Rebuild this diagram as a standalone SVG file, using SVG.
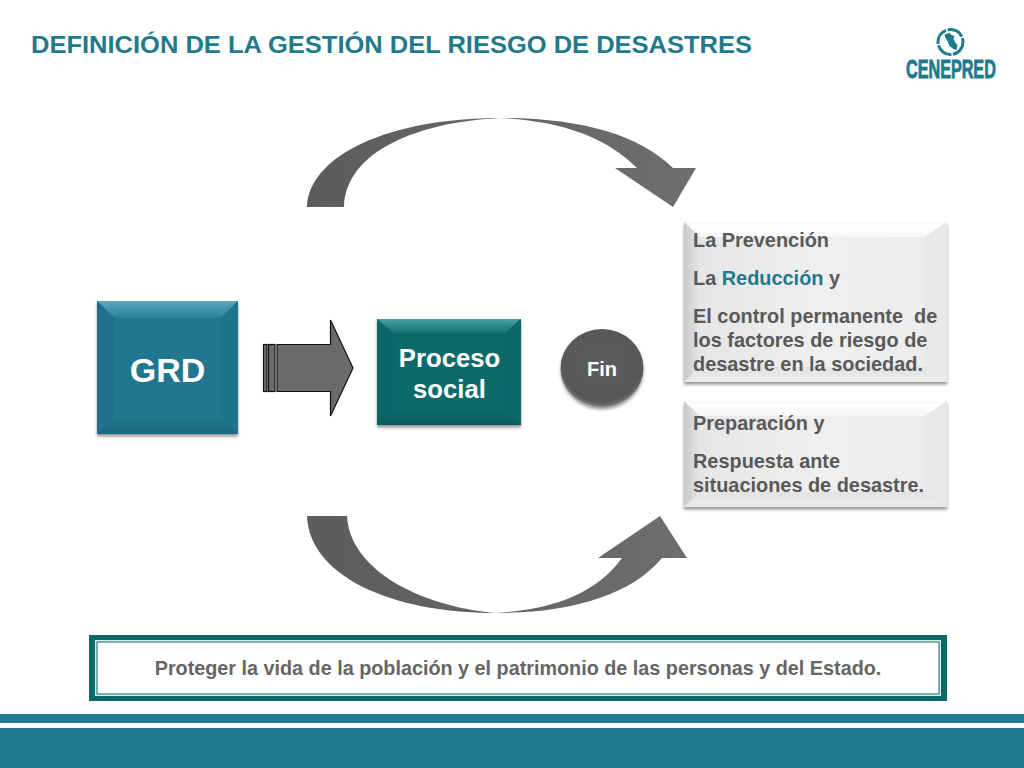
<svg xmlns="http://www.w3.org/2000/svg" width="1024" height="768" viewBox="0 0 1024 768">
<style>
text{font-family:"Liberation Sans",Arial,sans-serif;font-weight:700}
.t{fill:#595959;font-size:19.900px}
.w{fill:#fff;text-anchor:middle}
</style>
<defs>
<filter id="sh" x="-10%" y="-10%" width="120%" height="120%"><feDropShadow dx="0" dy="2.500" stdDeviation="1.500" flood-color="#000" flood-opacity=".42"/></filter>
<linearGradient id="g1" x1="0" x2="1" y1="0" y2="0"><stop offset="0" stop-color="#5c5c5c"/><stop offset="1" stop-color="#6e6e6e"/></linearGradient>
<radialGradient id="fin" cx=".5" cy=".45" r=".55"><stop offset="0" stop-color="#5c5c5c"/><stop offset=".88" stop-color="#585858"/><stop offset="1" stop-color="#7d7d7d"/></radialGradient>
<linearGradient id="box" x1="0" x2="1" y1="0" y2="0"><stop offset="0" stop-color="#c9c9c9"/><stop offset=".06" stop-color="#e6e6e6"/><stop offset=".5" stop-color="#efefef"/><stop offset="1" stop-color="#ececec"/></linearGradient>
<linearGradient id="top" x1="0" x2="0" y1="0" y2="1"><stop offset="0" stop-color="#f6f6f6"/><stop offset=".25" stop-color="#fff"/><stop offset="1" stop-color="#f7f7f7"/></linearGradient>
<linearGradient id="bt" x1="0" x2="0" y1="0" y2="1"><stop offset="0" stop-color="#e2e2e2"/><stop offset="1" stop-color="#ececec"/></linearGradient>
<linearGradient id="gt" x1="0" x2="0" y1="0" y2="1"><stop offset="0" stop-color="#5aa9be"/><stop offset="1" stop-color="#2a8098"/></linearGradient>
<linearGradient id="gb" x1="0" x2="0" y1="0" y2="1"><stop offset="0" stop-color="#21768f"/><stop offset="1" stop-color="#1b667d"/></linearGradient>
<linearGradient id="pt" x1="0" x2="0" y1="0" y2="1"><stop offset="0" stop-color="#48a0a0"/><stop offset="1" stop-color="#127272"/></linearGradient>
<linearGradient id="pb" x1="0" x2="0" y1="0" y2="1"><stop offset="0" stop-color="#0d6a6a"/><stop offset="1" stop-color="#0b5c5c"/></linearGradient>
</defs>
<rect width="1024" height="768" fill="#fff"/>
<text x="31" y="52.500" font-size="24" fill="#1f7a8c" textLength="721" lengthAdjust="spacingAndGlyphs">DEFINICIÓN DE LA GESTIÓN DEL RIESGO DE DESASTRES</text>

<g id="logo">
<circle cx="950.500" cy="42" r="12.500" fill="none" stroke="#1f7a8c" stroke-width="3" stroke-dasharray="17 1.500"/>
<path d="M945.500 34l4-1 2 2 3 1-1 3 2 4 2 2-1 5-3-1-4-3-2-5-2-3-1-3z" fill="#1f7a8c"/>
<text transform="translate(906 78) scale(.622 1)" x="0" y="0" font-size="26" fill="#1f7a8c" stroke="#1f7a8c" stroke-width=".9">CENEPRED</text>
</g>

<g id="connectors">
<path id="arrow-top" d="M307 207C309 155 390 118 500 118C580 118 638 134 673 168L696 168L673 207L615 168L637 168C605 136 560 121 500 118C420 122 346 150 344 207Z" fill="url(#g1)"/>
<path id="arrow-bottom" d="M307 516L347 516C350 570 420 606 495 613C550 610 595 595 622 558L598 558L660 516L687 558L662 558C630 596 570 613 495 613C390 613 309 575 307 516Z" fill="url(#g1)"/>
<g id="arrow-mid" fill="#6b6b6b" stroke="#111" stroke-width="1.200">
<rect x="263.500" y="344.500" width="3.500" height="47"/>
<rect x="268.500" y="344.500" width="6.500" height="47"/>
<path d="M277 344.500H330.500V320L353 368L330.500 416V391.500H277Z"/>
</g>
</g>

<g id="grd">
<rect x="97" y="301" width="141" height="133" fill="#21768f" filter="url(#sh)"/>
<path d="M97 301H238L221 318H114Z" fill="url(#gt)"/>
<path d="M97 301L114 318V417L97 434Z" fill="#1f708a"/>
<path d="M238 301L221 318V417L238 434Z" fill="#20738c"/>
<path d="M97 434L114 417H221L238 434Z" fill="url(#gb)"/>
<text class="w" x="167.500" y="381.500" font-size="34">GRD</text>
</g>

<g id="proceso">
<rect x="377" y="319" width="144" height="106" fill="#0d6a6a" filter="url(#sh)"/>
<path d="M377 319H521L505 333H393Z" fill="url(#pt)"/>
<path d="M377 319L393 333V411L377 425Z" fill="#0c6565"/>
<path d="M521 319L505 333V411L521 425Z" fill="#0c6767"/>
<path d="M377 425L393 411H505L521 425Z" fill="url(#pb)"/>
<text class="w" x="449.500" y="367" font-size="25.700">Proceso</text>
<text class="w" x="449.500" y="398" font-size="25.700">social</text>
</g>

<g id="fin-node">
<ellipse cx="602" cy="368" rx="41.500" ry="39" fill="url(#fin)" filter="url(#sh)"/>
<text class="w" x="602" y="375.500" font-size="20">Fin</text>
</g>

<g id="box1">
<rect x="684" y="222" width="263" height="160" fill="url(#box)" filter="url(#sh)"/>
<path d="M684 222H947L925 237H700Z" fill="url(#top)"/>
<path d="M947 222L925 237V367L947 382Z" fill="#e8e8e8"/>
<path d="M684 382L700 367H925L947 382Z" fill="url(#bt)"/>
<text class="t" x="693" y="246.500">La Prevención</text>
<text class="t" x="693" y="285">La <tspan fill="#1f7a8c">Reducción</tspan> y</text>
<text class="t" x="693" y="323" xml:space="preserve">El control permanente  de</text>
<text class="t" x="693" y="347">los factores de riesgo de</text>
<text class="t" x="693" y="371">desastre en la sociedad.</text>
</g>

<g id="box2">
<rect x="684" y="401" width="263" height="106" fill="url(#box)" filter="url(#sh)"/>
<path d="M684 401H947L925 416H700Z" fill="url(#top)"/>
<path d="M947 401L925 416V492L947 507Z" fill="#e8e8e8"/>
<path d="M684 507L700 492H925L947 507Z" fill="url(#bt)"/>
<text class="t" x="693" y="430">Preparación y</text>
<text class="t" x="693" y="468">Respuesta ante</text>
<text class="t" x="693" y="492">situaciones de desastre.</text>
</g>

<g id="objetivo">
<rect x="89" y="635" width="858" height="66" fill="#0d6a6a"/>
<rect x="95" y="640" width="846" height="56" fill="#d8ecec"/>
<rect x="97" y="642" width="842" height="52" fill="#fff" stroke="#0d6a6a" stroke-width="1"/>
<text x="518" y="675" font-size="19.800" fill="#666" text-anchor="middle">Proteger la vida de la población y el patrimonio de las personas y del Estado.</text>
</g>

<g id="footer" fill="#1f7a8f">
<rect x="0" y="714" width="1024" height="9"/>
<rect x="0" y="728" width="1024" height="40"/>
</g>
</svg>
